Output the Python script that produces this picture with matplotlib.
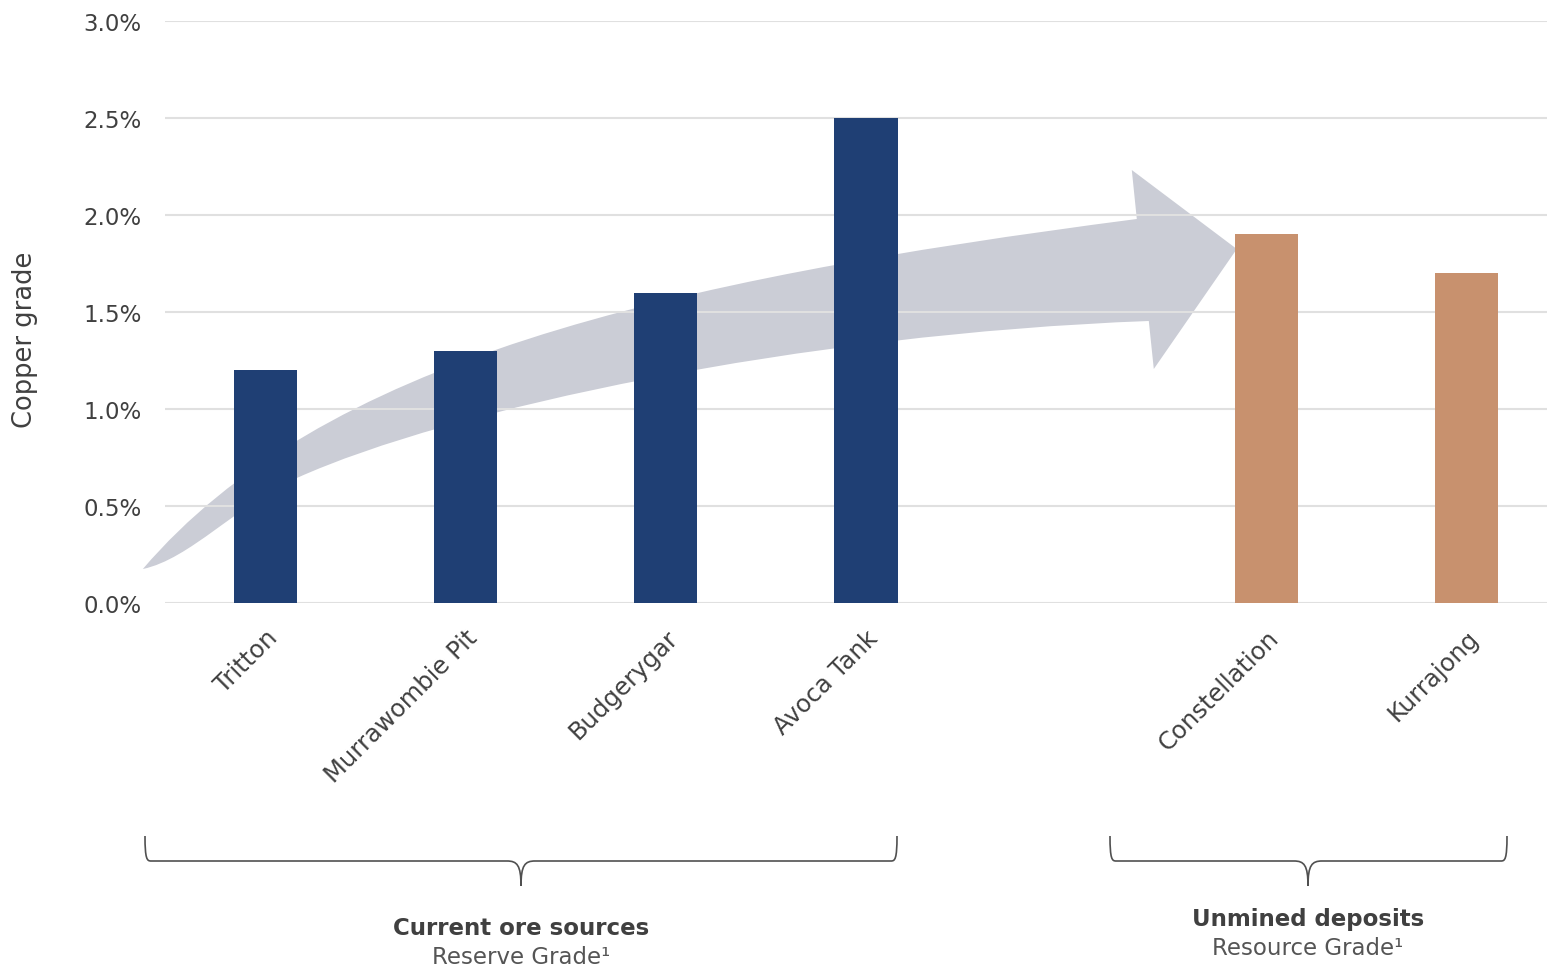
import numpy as np
import matplotlib
matplotlib.use("Agg")
import matplotlib.pyplot as plt
from matplotlib.path import Path
from matplotlib.patches import PathPatch
import matplotlib.ticker as mticker

plt.rcParams["font.family"] = ["DejaVu Sans"]

# --- data ---
sites = ["Tritton", "Murrawombie Pit", "Budgerygar", "Avoca Tank", "Constellation", "Kurrajong"]
grade = [1.2, 1.3, 1.6, 2.5, 1.9, 1.7]   # copper grade, %
group = ["current", "current", "current", "current", "unmined", "unmined"]
group_titles = ["Current ore sources", "Unmined deposits"]
group_subtitles = ["Reserve Grade\u00b9", "Resource Grade\u00b9"]

colors = {"current": "#1F3F74", "unmined": "#C8916E"}
text_c = "#404040"
grid_c = "#E0E0E0"
arrow_c = "#CBCDD6"

# one empty slot between the two groups
pos = []
p = 0
for i, g in enumerate(group):
    if i > 0 and g != group[i - 1]:
        p += 1
    pos.append(p)
    p += 1

W, H = 1547, 970
fig = plt.figure(figsize=(W / 100, H / 100), dpi=100)
ax = fig.add_axes([165 / W, 1 - 604 / H, 1 - 165 / W, (604 - 22) / H])

ax.bar(pos, grade, width=0.315, color=[colors[g] for g in group], zorder=2)

ax.set_xlim(-0.5, 6.4)
ax.set_ylim(0, 3.0)
ax.yaxis.set_major_locator(mticker.MultipleLocator(0.5))
ax.yaxis.set_major_formatter(mticker.FuncFormatter(lambda v, _: f"{v:.1f}%"))
ax.set_axisbelow(True)
ax.grid(axis="y", color=grid_c, linewidth=1.5)
for s in ax.spines.values():
    s.set_visible(False)
ax.tick_params(axis="both", length=0, labelcolor=text_c)
ax.tick_params(axis="y", pad=17, labelsize=16.5)
ax.set_xticks(pos)
ax.set_xticklabels(sites, rotation=45, ha="right", va="top", rotation_mode="anchor")
ax.tick_params(axis="x", pad=16, labelsize=17.5)
ax.set_ylabel("Copper grade", fontsize=18.5, color=text_c)
ax.yaxis.set_label_coords((38 - 165) / (W - 165), (604 - 340) / 582)

# --- curved arrow behind the bars, traced in pixels, converted to data units ---
def px(x, y):
    return ((x - 265.3) / 200.3, (604 - y) / 194)

upper = [px(143, 570), px(321, 362), px(659, 282), px(1137, 220)]     # cubic Bezier
head = [px(1132, 171), px(1237, 250), px(1154, 370), px(1149, 322)]
lower = [px(800, 335), px(450, 410), px(297, 479),                    # two cubics back to tail
         px(236, 507), px(190, 560), px(143, 570)]
verts = upper + head + lower + [upper[0]]
codes = ([Path.MOVETO] + [Path.CURVE4] * 3 + [Path.LINETO] * 4 + [Path.CURVE4] * 6
         + [Path.CLOSEPOLY])
ax.add_patch(PathPatch(Path(verts, codes), facecolor=arrow_c, edgecolor="none",
                       zorder=0.2, clip_on=False))

# --- braces under the groups (pixel positions) ---
def brace(x0, x1, xc, ytop=837, ymid=862, ybot=887, r=6):
    pts = [(x0, ytop), (x0, ymid - r * 0.3), (x0 + 2, ymid), (x0 + r, ymid),
           (xc - 14, ymid),
           (xc - 4, ymid), (xc, ymid + 4), (xc, ybot),
           (xc, ymid + 4), (xc + 4, ymid), (xc + 14, ymid),
           (x1 - r, ymid),
           (x1 - 2, ymid), (x1, ymid - r * 0.3), (x1, ytop)]
    cds = [Path.MOVETO, Path.CURVE4, Path.CURVE4, Path.CURVE4,
           Path.LINETO,
           Path.CURVE4, Path.CURVE4, Path.CURVE4,
           Path.CURVE4, Path.CURVE4, Path.CURVE4,
           Path.LINETO,
           Path.CURVE4, Path.CURVE4, Path.CURVE4]
    pts = [(x / W, 1 - y / H) for x, y in pts]
    fig.add_artist(PathPatch(Path(pts, cds), transform=fig.transFigure, facecolor="none",
                             edgecolor="#505050", linewidth=1.2))

brace(145, 897, 521)
brace(1110, 1507, 1308)

fig.text(521 / W, 1 - 929 / H, group_titles[0], ha="center", va="center",
         fontsize=16.5, fontweight="bold", color=text_c)
fig.text(521 / W, 1 - 958 / H, group_subtitles[0], ha="center", va="center",
         fontsize=16.5, color="#555555")
fig.text(1308 / W, 1 - 920 / H, group_titles[1], ha="center", va="center",
         fontsize=16.5, fontweight="bold", color=text_c)
fig.text(1308 / W, 1 - 949 / H, group_subtitles[1], ha="center", va="center",
         fontsize=16.5, color="#555555")

fig.savefig("out.png", dpi=100, facecolor="white")
